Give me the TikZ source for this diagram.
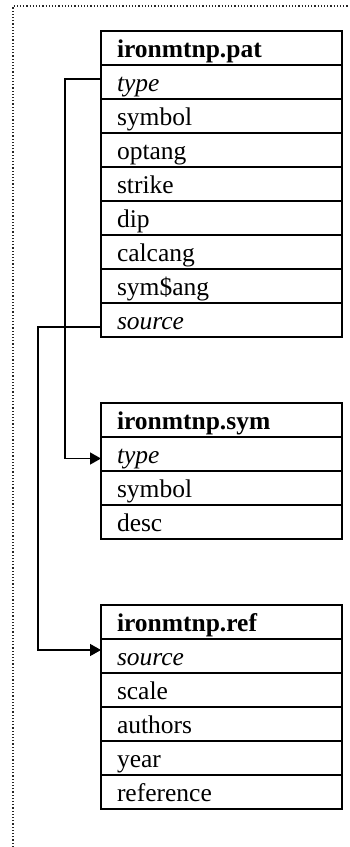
\documentclass[tikz,border=0pt]{standalone}
\usepackage{fontspec}
\setmainfont{Liberation Serif}
\usetikzlibrary{arrows.meta}
\begin{document}
\begin{tikzpicture}[x=1pt,y=-1pt,
  cell/.style={draw, line width=2.2pt, rectangle, anchor=north west, outer sep=0pt,
    minimum width=241pt, minimum height=34pt, inner xsep=16pt, inner ysep=0pt,
    text width=209pt, align=left, text height=26.5pt, text depth=7.5pt,
    font=\fontsize{25.5}{30}\selectfont},
  head/.style={cell, font=\fontsize{25.5}{30}\selectfont\bfseries},
  key/.style={cell, font=\fontsize{25.5}{30}\selectfont\itshape},
  link/.style={line width=1.4pt},
  arr/.style={link, -{Triangle[length=11pt,width=12pt]}},
  frame/.style={line width=1.2pt, dotted, black!85}]
\useasboundingbox (0,0) rectangle (349,847);
\draw[frame] (13,847) -- (13,6) -- (349,6);
% table 1
\node[head] (p0) at (101,31) {ironmtnp.pat};
\node[key]  (p1) at (p0.south west) {type};
\node[cell] (p2) at (p1.south west) {symbol};
\node[cell] (p3) at (p2.south west) {optang};
\node[cell] (p4) at (p3.south west) {strike};
\node[cell] (p5) at (p4.south west) {dip};
\node[cell] (p6) at (p5.south west) {calcang};
\node[cell] (p7) at (p6.south west) {sym\$ang};
\node[key]  (p8) at (p7.south west) {source};
% table 2
\node[head] (s0) at (101,403) {ironmtnp.sym};
\node[key]  (s1) at (s0.south west) {type};
\node[cell] (s2) at (s1.south west) {symbol};
\node[cell] (s3) at (s2.south west) {desc};
% table 3
\node[head] (r0) at (101,605) {ironmtnp.ref};
\node[key]  (r1) at (r0.south west) {source};
\node[cell] (r2) at (r1.south west) {scale};
\node[cell] (r3) at (r2.south west) {authors};
\node[cell] (r4) at (r3.south west) {year};
\node[cell] (r5) at (r4.south west) {reference};
% connectors
\draw[arr] ([yshift=3pt]p1.west) -- ++(-36,0) |- ([yshift=-4.5pt]s1.west);
\draw[arr] ([yshift=-7pt]p8.west) -- ++(-63,0) |- ([yshift=6pt]r1.west);
\end{tikzpicture}
\end{document}
